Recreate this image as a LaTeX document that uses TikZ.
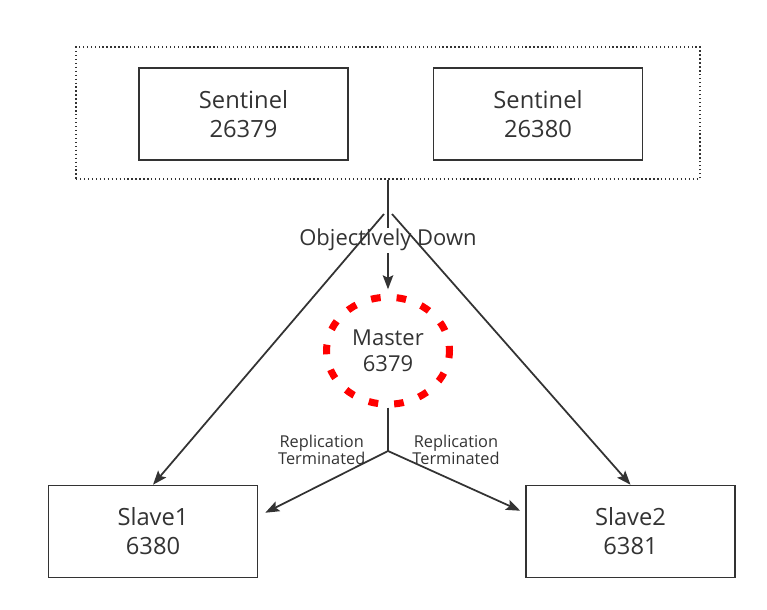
\documentclass[tikz,border=0pt]{standalone}
\usepackage{fontspec}
\setmainfont{Open Sans}
\usetikzlibrary{arrows.meta,positioning,shapes.geometric,calc}
\definecolor{ink}{HTML}{333333}
\definecolor{alarm}{HTML}{FF0000}
\tikzset{
  box/.style={rectangle, draw=ink, line width=0.9pt, fill=white, text=ink, align=center,
              font=\fontsize{13.5}{16.4}\selectfont, inner sep=0pt,
              minimum width=4.18cm, minimum height=1.84cm},
  group/.style={rectangle, draw=ink, line width=0.9pt, dash pattern=on 0.75pt off 1.5pt,
                minimum width=12.48cm, minimum height=2.64cm},
  master/.style={ellipse, draw=alarm, line width=4pt, dash pattern=on 5.5pt off 9.1pt,
                 dash phase=2.75pt, text=ink, align=center, inner sep=0pt,
                 font=\fontsize{12.5}{15.1}\selectfont,
                 minimum width=2.46cm, minimum height=2.14cm},
  fl/.style={-{Stealth[length=8pt, width=6pt, inset=1.5pt]}, draw=ink, line width=1pt},
  ln/.style={draw=ink, line width=1pt},
  lbl/.style={font=\fontsize{9.3}{10}\selectfont, text=ink, align=center},
  tag/.style={font=\fontsize{12.5}{15}\selectfont, text=ink, fill=white, inner sep=1pt}
}

\begin{document}
\begin{tikzpicture}[x=0.02cm, y=-0.02cm]
  \useasboundingbox (0,0) rectangle (767,609);
  % sentinels
  \node[group] (sentinels) at (388,113) {};
  \node[box] (s1) at (243.5,114) {Sentinel\\26379};
  \node[box] (s2) at (538,114) {Sentinel\\26380};
  % master and slaves
  \node[master] (master) at (388,350.7) {Master\\6379};
  \node[box] (slave1) at (153,531.5) {Slave1\\6380};
  \node[box] (slave2) at (630.5,531.5) {Slave2\\6381};
  % junctions
  \coordinate (split) at (388,214);
  \coordinate (fork) at (388,451);
  \coordinate (t1) at ($(slave1.north east)+(7,28)$);
  \coordinate (t2) at ($(slave2.north west)+(-5,26)$);
  % connectors
  \draw[fl, shorten >=2.5pt] (sentinels.south) -- node[tag, yshift=-2pt] {Objectively Down} (master.north);
  \draw[fl] ($(split)+(-4,0)$) -- (slave1.north);
  \draw[fl] ($(split)+(4,0)$) -- (slave2.north);
  \draw[ln] (master.south) -- (fork);
  \draw[fl] (fork) -- (t1);
  \draw[fl] (fork) -- (t2);
  \node[lbl] (rep1) at (321.7,450) {Replication\\Terminated};
  \node[lbl] (rep2) at (456,450) {Replication\\Terminated};
\end{tikzpicture}
\end{document}
